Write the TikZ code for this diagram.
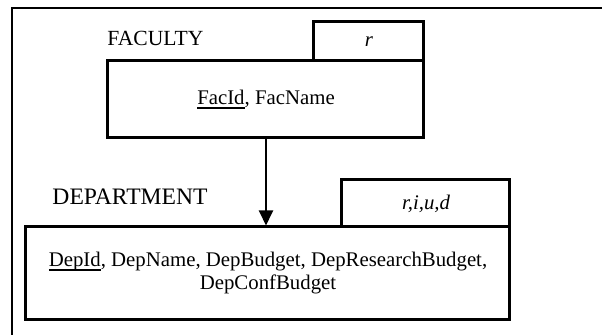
\documentclass[tikz,border=0pt]{standalone}
\usepackage{fontspec}
\setmainfont{Liberation Serif}
\usetikzlibrary{arrows.meta}
\newcommand{\pkey}[1]{\setbox0\hbox{#1}\rlap{\rule[-1.8pt]{\wd0}{0.8pt}}#1}

\begin{document}
\begin{tikzpicture}[x=0.5pt, y=-0.5pt, >={Triangle[length=7.5pt,width=7pt]},
  font=\fontsize{10.4}{11.5}\selectfont,
  rel/.style={draw, line width=1.5pt, inner sep=0pt, align=center},
  op/.style={draw, line width=1.5pt, inner sep=0pt, font=\fontsize{10.4}{11.5}\selectfont\itshape}]
\useasboundingbox (0,0) rectangle (602,335);
\draw[line width=1pt] (602,8) -- (12,8) -- (12,335);
% faculty
\node[rel, minimum width=158pt, minimum height=38.5pt] (fac) at (266,99.5) {\pkey{FacId}, FacName};
\node[op, minimum width=55pt, minimum height=19.5pt] (facop) at (369,41.5) {r};
\node[font=\fontsize{10.8}{12}\selectfont] (facname) at (155.5,38) {FACULTY};
% department
\node[rel, minimum width=242pt, minimum height=46.5pt] (dep) at (268,273.5) {\pkey{DepId}, DepName, DepBudget, DepResearchBudget,\\ DepConfBudget};
\node[op, minimum width=84pt, minimum height=23.5pt] (depop) at (426,203.5) {r,i,u,d};
\node[font=\fontsize{11.8}{13}\selectfont] (depname) at (130,197) {DEPARTMENT};
\draw[->, line width=1pt] (fac.south) -- (fac.south |- dep.north);
\end{tikzpicture}
\end{document}
